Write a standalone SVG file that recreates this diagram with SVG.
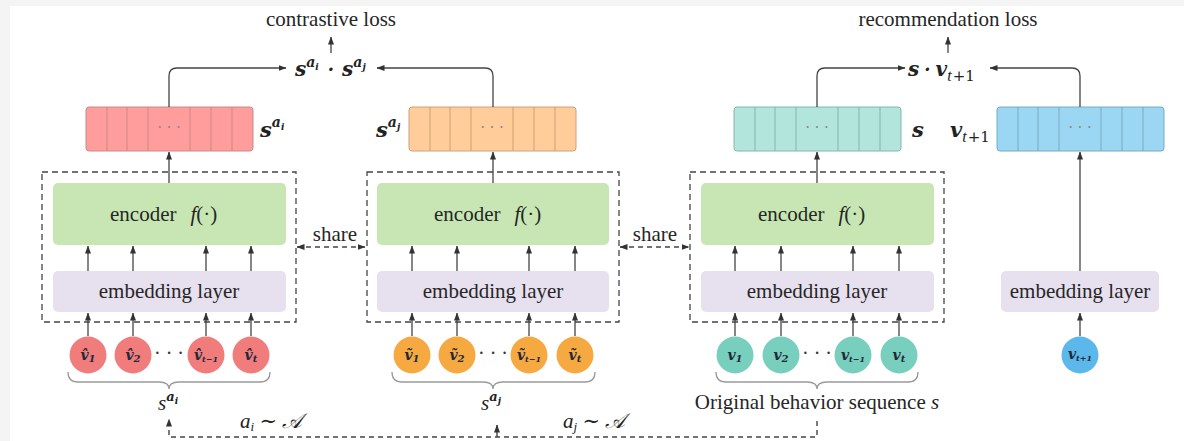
<svg xmlns="http://www.w3.org/2000/svg" width="1184" height="441" viewBox="0 0 1184 441">
<defs>
<marker id="ah" markerUnits="userSpaceOnUse" markerWidth="8" markerHeight="6" refX="7.5" refY="3" orient="auto-start-reverse">
<path d="M0,0 L8,3 L0,6 z" fill="#333"/>
</marker>
<style>
.t{font-family:"Liberation Serif","DejaVu Serif",serif;font-size:21px;fill:#262626}
.m{font-family:"DejaVu Serif","Liberation Serif",serif;font-style:italic;font-weight:bold;fill:#222}
.mi{font-family:"Liberation Serif","DejaVu Serif",serif;font-style:italic;fill:#222}
.up{font-family:"DejaVu Serif","Liberation Serif",serif;font-style:normal;font-weight:normal}
.dashbox{fill:none;stroke:#444;stroke-width:1.3;stroke-dasharray:6 4}
.enc{fill:#c8e6b4}
.emb{fill:#e6e0ef}
.ar{fill:none;stroke:#444;stroke-width:1.3;marker-end:url(#ah)}
.dl{fill:none;stroke:#444;stroke-width:1.4;stroke-dasharray:5 4}
.brace{fill:none;stroke:#9a9a9a;stroke-width:1.3}
.dots{font-family:"Liberation Serif",serif;font-size:16px;fill:#888}
.cdots{font-family:"Liberation Serif",serif;font-size:20px;fill:#333}
.cl{font-family:"DejaVu Serif","Liberation Serif",serif;font-style:italic;font-weight:bold;font-size:14px;fill:#1f2a3a}
.red{fill:#ff9c9c;stroke:#c98a8a}
.org{fill:#ffcc9a;stroke:#caa27a}
.tea{fill:#b2e5dc;stroke:#86b5ad}
.blu{fill:#9bd6f2;stroke:#78aac2}
.div{stroke-width:1}
</style>
</defs>
<rect width="1184" height="441" fill="#f4f4f4"/>
<rect x="10" y="6" width="1174" height="435" fill="#ffffff"/>

<g id="contrastive-loss">
<text class="t" x="331" y="26" text-anchor="middle">contrastive loss</text>
</g>
<g id="recommendation-loss">
<text class="t" x="948" y="26" text-anchor="middle">recommendation loss</text>
</g>
<g id="contrastive-product">
<text class="m" x="295" y="76" font-size="20">s<tspan font-size="14" dy="-9">a</tspan><tspan font-size="9" dy="3">i</tspan><tspan font-size="18" dx="9" dy="6">·</tspan><tspan font-size="20" dx="8">s</tspan><tspan font-size="14" dy="-9">a</tspan><tspan font-size="9" dy="3">j</tspan></text>
</g>
<g id="recommendation-product">
<text class="m" x="908" y="76" font-size="20">s<tspan font-size="18" dx="5">·</tspan><tspan dx="5">v</tspan><tspan class="mi" font-size="16" font-weight="normal" dy="5">t</tspan><tspan class="up" font-size="15" dx="1">+1</tspan></text>
</g>

<g id="vec-red">
<rect class="red" x="86" y="107" width="167" height="44" rx="3"/>
<g class="red div"><path d="M107,107V151M127,107V151M148,107V151M190,107V151M211,107V151M232,107V151"/></g>
<text class="dots" x="169" y="133" text-anchor="middle">· · ·</text>
<text class="m" x="260" y="137" font-size="21">s<tspan font-size="14" dy="-10">a</tspan><tspan font-size="9" dy="3">i</tspan></text>
</g>
<g id="vec-orange">
<rect class="org" x="409" y="107" width="167" height="44" rx="3"/>
<g class="org div"><path d="M430,107V151M450,107V151M471,107V151M513,107V151M534,107V151M555,107V151"/></g>
<text class="dots" x="492" y="133" text-anchor="middle">· · ·</text>
<text class="m" x="376" y="137" font-size="21">s<tspan font-size="14" dy="-10">a</tspan><tspan font-size="9" dy="3">j</tspan></text>
</g>
<g id="vec-teal">
<rect class="tea" x="734" y="107" width="167" height="44" rx="3"/>
<g class="tea div"><path d="M755,107V151M775,107V151M796,107V151M838,107V151M859,107V151M880,107V151"/></g>
<text class="dots" x="817" y="133" text-anchor="middle">· · ·</text>
<text class="m" x="912" y="137" font-size="21">s</text>
</g>
<g id="vec-blue">
<rect class="blu" x="997" y="107" width="167" height="44" rx="3"/>
<g class="blu div"><path d="M1018,107V151M1038,107V151M1059,107V151M1101,107V151M1122,107V151M1143,107V151"/></g>
<text class="dots" x="1080" y="133" text-anchor="middle">· · ·</text>
<text class="m" x="950" y="137" font-size="21">v<tspan class="mi" font-size="16" font-weight="normal" dy="5">t</tspan><tspan class="up" font-size="15" dx="1">+1</tspan></text>
</g>

<g id="branch-left">
<rect class="dashbox" x="42" y="172" width="254" height="150"/>
<rect class="enc" x="53" y="183" width="233" height="62" rx="5"/>
<text class="t" x="110" y="221">encoder<tspan class="mi" dx="14">f</tspan><tspan>(·)</tspan></text>
<rect class="emb" x="53" y="271" width="233" height="41" rx="5"/>
<text class="t" x="169" y="298" text-anchor="middle">embedding layer</text>
</g>
<g id="branch-middle">
<rect class="dashbox" x="367" y="172" width="252" height="150"/>
<rect class="enc" x="377" y="183" width="232" height="62" rx="5"/>
<text class="t" x="434" y="221">encoder<tspan class="mi" dx="14">f</tspan><tspan>(·)</tspan></text>
<rect class="emb" x="377" y="271" width="232" height="41" rx="5"/>
<text class="t" x="493" y="298" text-anchor="middle">embedding layer</text>
</g>
<g id="branch-right">
<rect class="dashbox" x="690" y="172" width="254" height="150"/>
<rect class="enc" x="701" y="183" width="233" height="62" rx="5"/>
<text class="t" x="758" y="221">encoder<tspan class="mi" dx="14">f</tspan><tspan>(·)</tspan></text>
<rect class="emb" x="701" y="271" width="233" height="41" rx="5"/>
<text class="t" x="817" y="298" text-anchor="middle">embedding layer</text>
</g>
<g id="target-embedding">
<rect class="emb" x="1001" y="271" width="158" height="41" rx="5"/>
<text class="t" x="1080" y="298" text-anchor="middle">embedding layer</text>
</g>

<g id="share-labels">
<text class="t" x="335" y="241" text-anchor="middle" font-size="22">share</text>
<text class="t" x="655" y="241" text-anchor="middle" font-size="22">share</text>
</g>

<g id="items-red" fill="#f07c7c">
<circle cx="88" cy="355" r="18.5"/><circle cx="133" cy="355" r="18.5"/><circle cx="206" cy="355" r="18.5"/><circle cx="251" cy="355" r="18.5"/>
<text class="cl" x="88" y="360" text-anchor="middle">v̂<tspan font-size="10" dy="2">1</tspan></text>
<text class="cl" x="133" y="360" text-anchor="middle">v̂<tspan font-size="10" dy="2">2</tspan></text>
<text class="cl" x="206" y="360" text-anchor="middle">v̂<tspan font-size="8" dy="2">t−1</tspan></text>
<text class="cl" x="251" y="360" text-anchor="middle">v̂<tspan font-size="10" dy="2">t</tspan></text>
<text class="cdots" x="169" y="360" text-anchor="middle">· · ·</text>
</g>
<g id="items-orange" fill="#f5a940">
<circle cx="412" cy="355" r="18.5"/><circle cx="457" cy="355" r="18.5"/><circle cx="529" cy="355" r="18.5"/><circle cx="575" cy="355" r="18.5"/>
<text class="cl" x="412" y="360" text-anchor="middle">ṽ<tspan font-size="10" dy="2">1</tspan></text>
<text class="cl" x="457" y="360" text-anchor="middle">ṽ<tspan font-size="10" dy="2">2</tspan></text>
<text class="cl" x="529" y="360" text-anchor="middle">ṽ<tspan font-size="8" dy="2">t−1</tspan></text>
<text class="cl" x="575" y="360" text-anchor="middle">ṽ<tspan font-size="10" dy="2">t</tspan></text>
<text class="cdots" x="493" y="360" text-anchor="middle">· · ·</text>
</g>
<g id="items-teal" fill="#79cfbd">
<circle cx="735" cy="355" r="18.5"/><circle cx="781" cy="355" r="18.5"/><circle cx="853" cy="355" r="18.5"/><circle cx="899" cy="355" r="18.5"/>
<text class="cl" x="735" y="360" text-anchor="middle">v<tspan font-size="10" dy="2">1</tspan></text>
<text class="cl" x="781" y="360" text-anchor="middle">v<tspan font-size="10" dy="2">2</tspan></text>
<text class="cl" x="853" y="360" text-anchor="middle">v<tspan font-size="8" dy="2">t−1</tspan></text>
<text class="cl" x="899" y="360" text-anchor="middle">v<tspan font-size="10" dy="2">t</tspan></text>
<text class="cdots" x="817" y="360" text-anchor="middle">· · ·</text>
</g>
<g id="item-target" fill="#5cb8ea">
<circle cx="1080" cy="355" r="18.5"/>
<text class="cl" x="1080" y="359" text-anchor="middle">v<tspan font-size="8" dy="2">t+1</tspan></text>
</g>

<g id="seq-labels">
<text class="mi" x="158" y="410" font-size="21">s<tspan class="m" font-size="13" dy="-9">a</tspan><tspan class="m" font-size="9" dy="3">i</tspan></text>
<text class="mi" x="481" y="410" font-size="21">s<tspan class="m" font-size="13" dy="-9">a</tspan><tspan class="m" font-size="9" dy="3">j</tspan></text>
<text class="t" x="817" y="409" text-anchor="middle">Original behavior sequence <tspan class="mi">s</tspan></text>
<text class="mi" x="240" y="428" font-size="21">a<tspan font-size="13" dy="3">i</tspan><tspan dy="-3"> ∼ 𝒜</tspan></text>
<text class="mi" x="563" y="428" font-size="21">a<tspan font-size="13" dy="3">j</tspan><tspan dy="-3"> ∼ 𝒜</tspan></text>
</g>

<g id="connectors">
<path class="ar" d="M331,53V37"/>
<path class="ar" d="M948,53V37"/>
<path class="ar" d="M169,107V76Q169,68 177,68H286"/>
<path class="ar" d="M493,107V76Q493,68 485,68H377"/>
<path class="ar" d="M817,107V76Q817,68 825,68H905"/>
<path class="ar" d="M1080,107V76Q1080,68 1072,68H990"/>
<path class="ar" d="M169,183V152"/>
<path class="ar" d="M493,183V152"/>
<path class="ar" d="M817,183V152"/>
<path class="ar" d="M1080,271V152"/>
<path class="ar" d="M88,271V246"/><path class="ar" d="M133,271V246"/><path class="ar" d="M206,271V246"/><path class="ar" d="M251,271V246"/>
<path class="ar" d="M412,271V246"/><path class="ar" d="M457,271V246"/><path class="ar" d="M529,271V246"/><path class="ar" d="M575,271V246"/>
<path class="ar" d="M735,271V246"/><path class="ar" d="M781,271V246"/><path class="ar" d="M853,271V246"/><path class="ar" d="M899,271V246"/>
<path class="ar" d="M88,336V313"/><path class="ar" d="M133,336V313"/><path class="ar" d="M206,336V313"/><path class="ar" d="M251,336V313"/>
<path class="ar" d="M412,336V313"/><path class="ar" d="M457,336V313"/><path class="ar" d="M529,336V313"/><path class="ar" d="M575,336V313"/>
<path class="ar" d="M735,336V313"/><path class="ar" d="M781,336V313"/><path class="ar" d="M853,336V313"/><path class="ar" d="M899,336V313"/>
<path class="ar" d="M1080,336V313"/>
<path class="dl" d="M297,247H365" marker-start="url(#ah)" marker-end="url(#ah)"/>
<path class="dl" d="M620,247H689" marker-start="url(#ah)" marker-end="url(#ah)"/>
<path class="brace" d="M68,372Q68,382 78,382H159Q169,382 169,389Q169,382 179,382H260Q270,382 270,372"/>
<path class="brace" d="M392,372Q392,382 402,382H483Q493,382 493,389Q493,382 503,382H585Q595,382 595,372"/>
<path class="brace" d="M716,372Q716,382 726,382H807Q817,382 817,389Q817,382 827,382H908Q918,382 918,372"/>
<path class="dl" d="M817,421V437H169V419" marker-end="url(#ah)"/>
<path class="dl" d="M497,437V425" marker-end="url(#ah)"/>
</g>
</svg>
